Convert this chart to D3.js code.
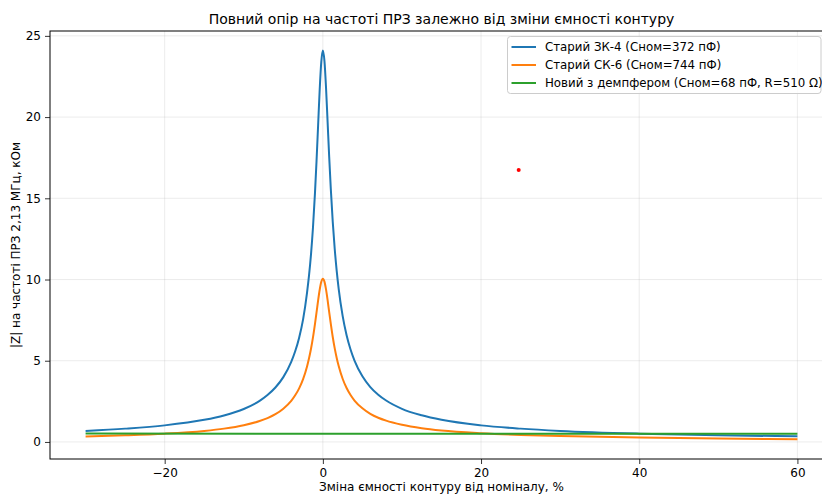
<!DOCTYPE html>
<html>
<head>
<meta charset="utf-8">
<script src="https://cdn.jsdelivr.net/npm/d3@7"></script>
<style>
  body { margin: 0; background: #fff; }
  svg { font-family: "DejaVu Sans", sans-serif; }
</style>
</head>
<body>
<script>
// values
const dC_old34 = [-30, -25, -20, -15, -12.5, -10, -8, -7, -6, -5, -4, -3.5, -3, -2.5, -2, -1.75, -1.5, -1.25, -1, -0.8, -0.6, -0.4, -0.2, 0,
  0.2, 0.4, 0.6, 0.8, 1, 1.25, 1.5, 1.75, 2, 2.5, 3, 3.5, 4, 5, 6, 7, 8, 10, 12.5, 15, 20, 25, 30, 40, 50, 60]
const z_old34 = [0.68, 0.82, 1.02, 1.36, 1.63, 2.03, 2.53, 2.89, 3.35, 3.99, 4.93, 5.58, 6.42, 7.55, 9.2, 10.25, 11.55, 13.2, 15.3, 17.3, 19.5, 21.7, 23.4, 24.1,
  23.46, 21.81, 19.69, 17.55, 15.61, 13.55, 11.88, 10.53, 9.43, 7.76, 6.57, 5.69, 5.01, 4.04, 3.38, 2.91, 2.55, 2.04, 1.64, 1.36, 1.02, 0.82, 0.68, 0.51, 0.41, 0.35]

const dC_oldCK6 = [-30, -25, -20, -15, -12.5, -10, -8, -7, -6, -5, -4, -3.5, -3, -2.5, -2, -1.75, -1.5, -1.25, -1, -0.8, -0.6, -0.4, -0.2, 0,
  0.2, 0.4, 0.6, 0.8, 1, 1.25, 1.5, 1.75, 2, 2.5, 3, 3.5, 4, 5, 6, 7, 8, 10, 12.5, 15, 20, 25, 30, 40, 50, 60]
const z_oldCK6 = [0.34, 0.41, 0.51, 0.68, 0.82, 1.03, 1.29, 1.47, 1.71, 2.05, 2.53, 2.87, 3.3, 3.87, 4.65, 5.15, 5.74, 6.44, 7.26, 7.97, 8.71, 9.37, 9.86, 10.05,
  9.87, 9.39, 8.73, 7.99, 7.28, 6.46, 5.76, 5.17, 4.67, 3.89, 3.32, 2.89, 2.55, 2.07, 1.73, 1.49, 1.31, 1.06, 0.85, 0.71, 0.54, 0.43, 0.36, 0.27, 0.21, 0.17]

const dC_new = [-30, 0, 30, 60]
const z_new = [0.52, 0.51, 0.51, 0.51]

const seriesNames = [
  "Старий ЗК-4 (Сном=372 пФ)",
  "Старий СК-6 (Сном=744 пФ)",
  "Новий з демпфером (Сном=68 пФ, R=510 Ω)"
]
const colors = ["#1f77b4", "#ff7f0e", "#2ca02c"]

const xTicks = [-20, 0, 20, 40, 60]
const yTicks = [0, 5, 10, 15, 20, 25]

const strayX = [24.76]
const strayY = [16.75]

const titleText = "Повний опір на частоті ПРЗ залежно від зміни ємності контуру"
const xLabel = "Зміна ємності контуру від номіналу, %"
const yLabel = "|Z| на частоті ПРЗ 2,13 МГц, кОм"

//setting up
const W = 822, H = 494
const padL = 50, padT = 31, padR = 833, padB = 459

const svg = d3.select('body').append('svg').attr('width', W).attr('height', H)

const x = d3.scaleLinear().domain([-34.5, 64.5]).range([padL, padR])
const y = d3.scaleLinear().domain([-1.05, 25.3]).range([padB, padT])

// grid
svg.append('g').selectAll('line').data(xTicks).join('line')
  .attr('x1', d => x(d)).attr('x2', d => x(d)).attr('y1', padT).attr('y2', padB)
  .attr('stroke', '#b0b0b0').attr('stroke-opacity', 0.3).attr('stroke-width', 0.8)
svg.append('g').selectAll('line').data(yTicks).join('line')
  .attr('x1', padL).attr('x2', padR).attr('y1', d => y(d)).attr('y2', d => y(d))
  .attr('stroke', '#b0b0b0').attr('stroke-opacity', 0.3).attr('stroke-width', 0.8)

// curves
const series = [
  d3.zip(dC_old34, z_old34),
  d3.zip(dC_oldCK6, z_oldCK6),
  d3.zip(dC_new, z_new)
]
const line = d3.line().x(d => x(d[0])).y(d => y(d[1])).curve(d3.curveMonotoneX)
svg.append('g').selectAll('path').data(series).join('path')
  .attr('d', line)
  .attr('fill', 'none')
  .attr('stroke', (d, i) => colors[i])
  .attr('stroke-width', 2)

svg.selectAll('circle.stray').data(d3.zip(strayX, strayY)).join('circle')
  .attr('class', 'stray')
  .attr('cx', d => x(d[0])).attr('cy', d => y(d[1])).attr('r', 2)
  .attr('fill', 'red')

// axes
const fmt = d => d < 0 ? "\u2212" + Math.abs(d) : String(d)
const xAxis = svg.append('g').attr('transform', `translate(0,${padB})`)
  .call(d3.axisBottom(x).tickValues(xTicks).tickFormat(fmt).tickSize(5).tickPadding(4))
const yAxis = svg.append('g').attr('transform', `translate(${padL},0)`)
  .call(d3.axisLeft(y).tickValues(yTicks).tickFormat(fmt).tickSize(5).tickPadding(4))
for (const ax of [xAxis, yAxis]) {
  ax.select('.domain').remove()
  ax.selectAll('text').attr('font-size', 12).attr('font-family', 'DejaVu Sans').attr('fill', '#000')
  ax.selectAll('line').attr('stroke', '#000').attr('stroke-width', 0.8)
}

// spines (right one falls outside the picture)
svg.append('rect').attr('x', padL).attr('y', padT).attr('width', padR - padL).attr('height', padB - padT)
  .attr('fill', 'none').attr('stroke', '#000').attr('stroke-width', 1)

// titles
svg.append('text').attr('x', (padL + padR) / 2).attr('y', 24).attr('text-anchor', 'middle')
  .attr('font-size', 14).text(titleText)
svg.append('text').attr('x', (padL + padR) / 2).attr('y', 491).attr('text-anchor', 'middle')
  .attr('font-size', 12).text(xLabel)
svg.append('text').attr('transform', `translate(20,${(padT + padB) / 2}) rotate(-90)`).attr('text-anchor', 'middle')
  .attr('font-size', 12).text(yLabel)

// legend
const lg = svg.append('g').attr('transform', 'translate(507.5,36.5)')
lg.append('rect').attr('width', 313.5).attr('height', 57).attr('rx', 3)
  .attr('fill', '#fff').attr('fill-opacity', 0.8).attr('stroke', '#cccccc')
seriesNames.forEach((name, i) => {
  const yy = 10.5 + i * 18
  lg.append('line').attr('x1', 4).attr('x2', 28.5).attr('y1', yy).attr('y2', yy)
    .attr('stroke', colors[i]).attr('stroke-width', 2)
  lg.append('text').attr('x', 37.5).attr('y', yy + 4.3).attr('font-size', 11.8).text(name)
})
</script>
</body>
</html>
